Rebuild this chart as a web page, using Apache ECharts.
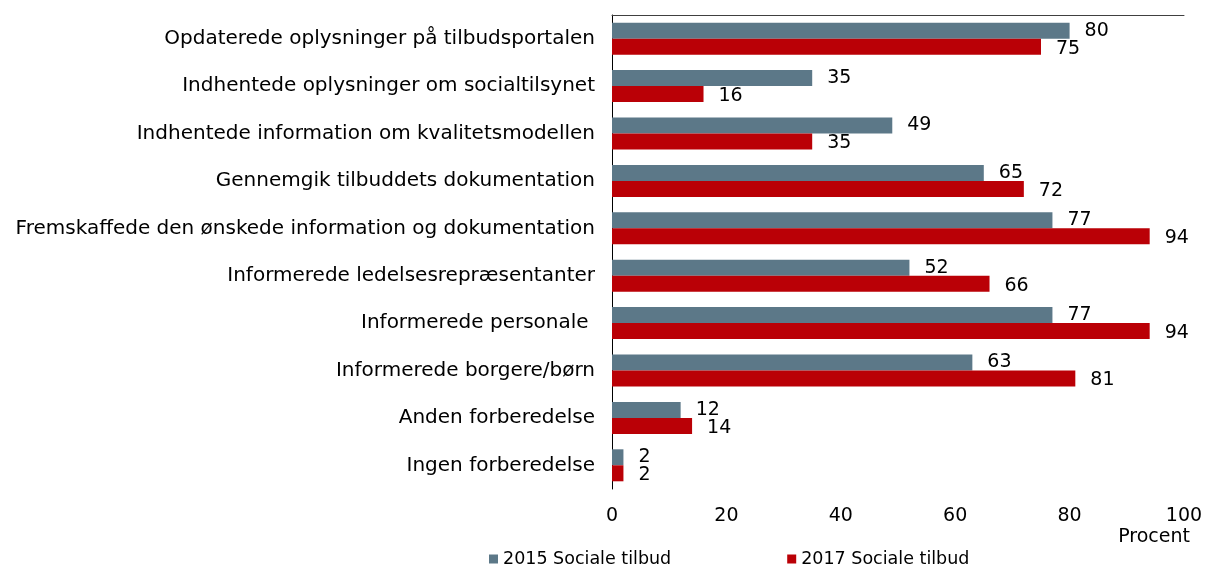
<!DOCTYPE html>
<html>
<head>
<meta charset="utf-8">
<script src="https://cdn.jsdelivr.net/npm/echarts@6/dist/echarts.min.js"></script>
<style>
  html, body { margin: 0; padding: 0; background: #fff; }
  #chart { width: 1208px; height: 566px; }
</style>
</head>
<body>
<div id="chart"></div>
<script>
var categories = [
  'Opdaterede oplysninger på tilbudsportalen',
  'Indhentede oplysninger om socialtilsynet',
  'Indhentede information om kvalitetsmodellen',
  'Gennemgik tilbuddets dokumentation',
  'Fremskaffede den ønskede information og dokumentation',
  'Informerede ledelsesrepræsentanter',
  'Informerede personale ',
  'Informerede borgere/børn',
  'Anden forberedelse',
  'Ingen forberedelse'
];
var values2015 = [80, 35, 49, 65, 77, 52, 77, 63, 12, 2];
var values2017 = [75, 16, 35, 72, 94, 66, 94, 81, 14, 2];
var xTicks = [0, 20, 40, 60, 80, 100];

var font = '"DejaVu Sans", Verdana, sans-serif';

var option = {
  animation: false,
  textStyle: { fontFamily: font },
  grid: { left: 612, right: 24, top: 15, bottom: 77 },
  legend: {
    top: 545,
    left: 484,
    itemWidth: 9,
    itemHeight: 9,
    itemGap: 116,
    itemStyle: { borderWidth: 0 },
    icon: 'rect',
    textStyle: { fontSize: 17.5, color: '#000', fontFamily: font }
  },
  graphic: [{
    type: 'text',
    right: 18,
    top: 528,
    style: { text: 'Procent', fontSize: 19, fill: '#000', fontFamily: font }
  }],
  xAxis: [{
    type: 'value',
    min: 0,
    max: 100,
    interval: 20,
    position: 'bottom',
    axisLine: { show: false },
    axisTick: { show: false },
    splitLine: { show: false },
    axisLabel: {
      fontSize: 19, color: '#000', margin: 18, fontFamily: font,
      formatter: function (v) { return xTicks.indexOf(v) >= 0 ? v : ''; }
    }
  }, {
    type: 'value',
    min: 0,
    max: 100,
    position: 'top',
    axisLine: { show: true, lineStyle: { color: '#404040', width: 1 } },
    axisTick: { show: false },
    axisLabel: { show: false },
    splitLine: { show: false }
  }],
  yAxis: {
    type: 'category',
    data: categories,
    inverse: true,
    axisLine: { show: true, lineStyle: { color: '#000', width: 1 } },
    axisTick: { show: false },
    axisLabel: { fontSize: 20, color: '#000', margin: 17, fontFamily: font }
  },
  series: [{
    name: '2015 Sociale tilbud',
    type: 'bar',
    data: values2015,
    barWidth: 16,
    barGap: '0%',
    itemStyle: { color: '#5C7888' },
    label: {
      show: true, position: 'right', distance: 15, offset: [0, 0],
      fontSize: 19, color: '#000', fontFamily: font
    }
  }, {
    name: '2017 Sociale tilbud',
    type: 'bar',
    data: values2017,
    barWidth: 16,
    barGap: '0%',
    itemStyle: { color: '#BA0006' },
    label: {
      show: true, position: 'right', distance: 15, offset: [0, 2],
      fontSize: 19, color: '#000', fontFamily: font
    }
  }]
};

var myChart = echarts.init(document.getElementById('chart'));
myChart.setOption(option);
</script>
</body>
</html>
